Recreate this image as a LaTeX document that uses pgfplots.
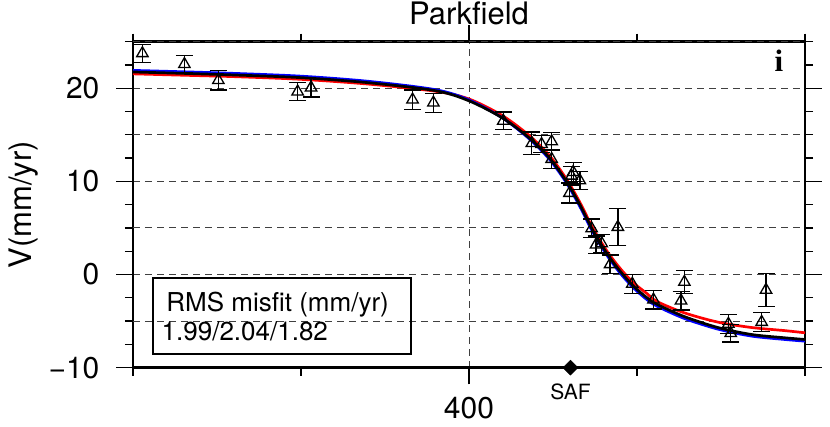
\documentclass[border=0pt]{standalone}
\usepackage{pgfplots}
\pgfplotsset{compat=1.18}
\usepackage{fontspec}
\setmainfont{TeX Gyre Heros}
\newfontfamily\timesfont{Liberation Serif}
\begin{document}
\begin{tikzpicture}[x=1pt,y=1pt]
\useasboundingbox (0,0) rectangle (830,-426);
\begin{axis}[
  at={(133pt,-41.7pt)}, anchor=north west,
  scale only axis, width=672pt, height=326pt,
  xmin=300, xmax=500, ymin=-10, ymax=25,
  clip=false,
  axis line style={line width=2.6pt},
  xtick={400}, xticklabels={400},
  minor xtick={300,350,450,500},
  ytick={-10,0,10,20}, yticklabels={−10,0,10,20},
  minor ytick={-7.5,-2.5,2.5,7.5,12.5,17.5,22.5},
  extra y ticks={-5,5,15,25}, extra y tick labels={},
  extra y tick style={major tick length=8pt},
  tick align=outside,
  major tick length=16.7pt, minor tick length=8pt,
  every tick/.style={black, line width=1.3pt},
  xmajorgrids, ymajorgrids,
  major grid style={dash pattern=on 7pt off 5pt, line width=1pt, black!75},
  yticklabel style={font=\fontsize{30}{36}\selectfont, inner sep=0pt, xshift=-16.7pt},
  xticklabel style={font=\fontsize{30}{36}\selectfont, inner sep=0pt, yshift=-13pt},
  title={Parkfield},
  title style={font=\fontsize{31}{37}\selectfont, at={(axis description cs:0.5,1.0337)}, anchor=base, inner sep=0pt},
  ylabel={V(mm/yr)},
  ylabel style={font=\fontsize{31}{37}\selectfont, at={(axis description cs:-0.1503,0.5)}, anchor=base, inner sep=0pt},
]
% red model
\addplot[red, line width=2.7pt, smooth] coordinates {
(300,21.55) (315,21.4) (330,21.25) (350,20.96) (370,20.45) (390,19.68) (400,18.85)
(410,17.05) (418,14.9) (424,12.75) (429,10.25) (433,7.75) (437,4.9) (441,2.55)
(445,0.65) (449,-0.9) (453,-2.05) (456,-2.9) (464,-4.1) (474,-5.1) (484,-5.68)
(494,-6.02) (500,-6.25)};
% blue model
\addplot[blue, line width=2.7pt, smooth] coordinates {
(300,21.92) (315,21.77) (330,21.6) (350,21.3) (370,20.75) (390,19.85) (400,18.75)
(410,16.8) (418,14.55) (424,12.35) (429,9.85) (433,7.3) (437,4.45) (441,2.1)
(445,0.15) (449,-1.45) (453,-2.7) (456,-3.4) (464,-4.7) (474,-5.85) (484,-6.6)
(494,-6.97) (500,-7.15)};
% black model
\addplot[black, line width=2.7pt, smooth] coordinates {
(300,21.75) (315,21.6) (330,21.43) (350,21.14) (370,20.6) (390,19.74) (400,18.65)
(410,16.8) (418,14.65) (424,12.5) (429,10.0) (433,7.5) (437,4.65) (441,2.3)
(445,0.35) (449,-1.26) (453,-2.5) (456,-3.2) (464,-4.5) (474,-5.68) (484,-6.43)
(494,-6.79) (500,-6.97)};
% observations
\addplot[only marks, mark=triangle, mark size=6.6pt, mark options={black, line width=1.3pt},
  error bars/.cd, y dir=both, y explicit,
  error bar style={black, line width=1.3pt},
  error mark options={rotate=90, black, mark size=8.5pt, line width=1.3pt}]
table[x=x, y=y, y error=e] {
x y e
302.8 23.75 0.96
315.3 22.58 0.91
325.4 20.86 1.04
349.0 19.64 0.99
353.0 20.07 1.00
383.2 18.78 1.03
389.4 18.45 1.02
410.2 16.50 0.95
418.7 14.10 1.20
421.6 14.00 0.90
424.6 14.30 0.95
424.6 12.40 1.00
431.0 11.00 1.00
430.5 10.60 1.00
433.0 10.10 1.00
429.9 8.75 1.07
436.5 4.95 1.00
444.3 5.10 2.00
437.8 3.20 0.93
439.5 3.35 0.95
442.0 1.10 1.00
448.6 -1.00 1.00
454.9 -2.70 1.00
464.1 -0.80 1.25
463.1 -2.80 1.00
477.2 -5.30 1.00
477.9 -6.30 0.95
487.1 -5.10 1.00
488.4 -1.65 1.80
};
% SAF marker
\addplot[only marks, mark=square*, mark size=5.3pt, mark options={black, fill=black, rotate=45}]
  coordinates {(430.2,-10)};
\node[anchor=north, inner sep=0pt, font=\fontsize{21}{25}\selectfont] at (axis cs:430.2,-10) [yshift=-16.3pt] {SAF};
% RMS box
\draw[line width=2pt] (rel axis cs:0.0302,0.0411) rectangle (rel axis cs:0.4137,0.2742);
\node[anchor=base west, inner sep=0pt, font=\fontsize{26}{31}\selectfont] at (rel axis cs:0.0495,0.1718) {RMS misfit (mm/yr)};
\node[anchor=base west, inner sep=0pt, font=\fontsize{26}{31}\selectfont] at (rel axis cs:0.0424,0.0828) {1.99/2.04/1.82};
% panel letter
\node[anchor=base, inner sep=0pt, font=\timesfont\bfseries\fontsize{31}{37}\selectfont] at (rel axis cs:0.9613,0.908) {i};
\end{axis}
\end{tikzpicture}
\end{document}
